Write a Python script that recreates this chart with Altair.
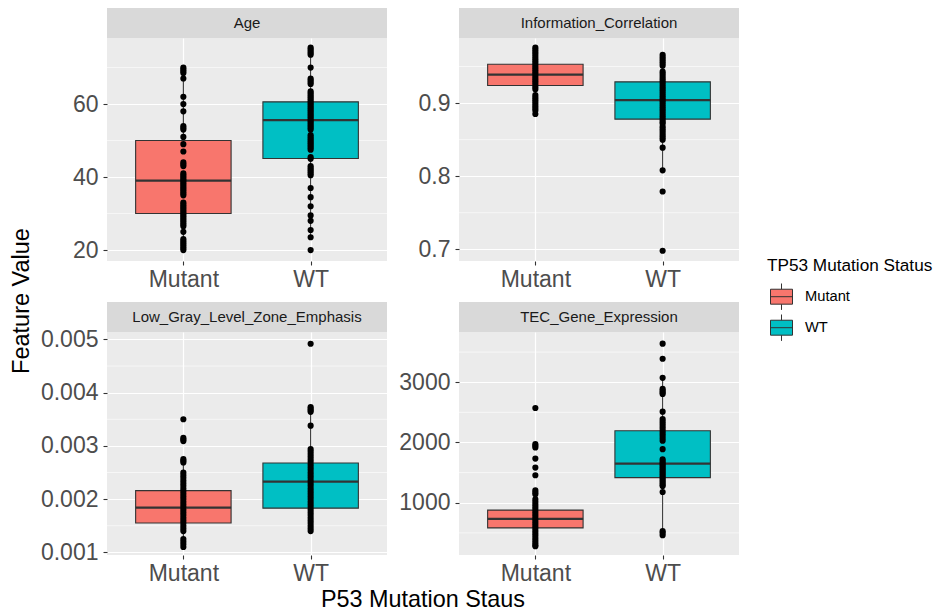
import altair as alt
import pandas as pd

FONT = "Liberation Sans"

features = ["Age", "Information_Correlation", "Low_Gray_Level_Zone_Emphasis", "TEC_Gene_Expression"]
statuses = ["Mutant", "WT"]
status_colors = ["#F8766D", "#00BFC4"]

age_mutant = [70, 69.5, 69, 68.5, 67, 62, 60, 58, 54, 53.5, 53, 51, 49, 47, 44, 43.5, 43,
              41, 40.5, 40, 39.5, 39, 38.5, 38, 37.5, 37, 36.5, 36, 35.5, 35,
              33, 32.5, 32, 31.5, 31, 30.5, 30, 29.5, 29, 28.5, 28, 27.5, 27, 26.5,
              25, 23, 22.5, 22, 21.5, 21, 20.5, 20]
age_wt = [75.5, 75, 74.5, 74, 73.5, 70, 67, 66.5, 66, 65.5, 63.5, 63, 62.5, 62, 61.5, 61,
          60.5, 60, 59.5, 59, 58.5, 58, 57.5, 57, 56.5, 56, 55.5, 55, 54.5, 54, 53.5, 53,
          51.5, 51, 50.5, 50, 49.5, 49, 48.5, 48, 47.5, 45.5, 45, 43, 42.5, 42, 41.5, 41,
          40.5, 37, 34.5, 32, 29.5, 28, 25.5, 23.5, 20]
info_mutant = [0.976, 0.973, 0.970, 0.967, 0.964, 0.961, 0.958, 0.955, 0.952, 0.949, 0.946,
               0.943, 0.940, 0.937, 0.934, 0.931, 0.928, 0.925, 0.922, 0.919,
               0.911, 0.908, 0.905, 0.902, 0.899, 0.896, 0.893, 0.890, 0.885]
info_wt = [0.966, 0.963, 0.960, 0.957, 0.954, 0.951, 0.943, 0.940, 0.937, 0.934, 0.931,
           0.928, 0.925, 0.922, 0.919, 0.916, 0.913, 0.910, 0.907, 0.904, 0.901, 0.898,
           0.895, 0.892, 0.889, 0.886, 0.883, 0.880, 0.877, 0.874, 0.872, 0.868, 0.865,
           0.862, 0.859, 0.856, 0.853, 0.850, 0.839, 0.808, 0.779, 0.698]
lgl_mutant = [0.0035, 0.00315, 0.00312, 0.00309, 0.00275, 0.00272, 0.00269,
              0.0025, 0.00245, 0.0024, 0.00235, 0.0023, 0.00225, 0.0022, 0.00215, 0.0021,
              0.00205, 0.002, 0.00195, 0.0019, 0.00185, 0.0018, 0.00175, 0.0017, 0.00165,
              0.0016, 0.00155, 0.0015, 0.00145, 0.0014, 0.00125, 0.0012, 0.00115, 0.0011]
lgl_wt = [0.00492, 0.00373, 0.0037, 0.00367, 0.00364, 0.00338, 0.00294, 0.0029, 0.00285,
          0.0028, 0.00275, 0.0027, 0.00265, 0.0026, 0.00255, 0.0025, 0.00245, 0.0024,
          0.00235, 0.0023, 0.00225, 0.0022, 0.00215, 0.0021, 0.00205, 0.002, 0.00195,
          0.0019, 0.00185, 0.0018, 0.00175, 0.0017, 0.00165, 0.0016, 0.00155, 0.0015,
          0.00145, 0.0014]
tec_mutant = [2572, 1972, 1945, 1917, 1733, 1583, 1456, 1206, 1172, 1139, 1056, 1015, 975,
              935, 895, 855, 815, 775, 735, 695, 655, 615, 575, 535, 495, 455, 415, 375,
              335, 300, 278]
tec_wt = [3639, 3389, 3072, 2889, 2860, 2830, 2806, 2511, 2389, 2350, 2310, 2270, 2230,
          2190, 2150, 2110, 2070, 2028, 1889, 1722, 1690, 1660, 1630, 1600, 1570, 1540,
          1510, 1480, 1450, 1420, 1390, 1360, 1330, 1300, 1278, 1178, 528, 500, 461]

points_by_feature = [[age_mutant, age_wt], [info_mutant, info_wt],
                     [lgl_mutant, lgl_wt], [tec_mutant, tec_wt]]

# box statistics [Mutant, WT] per feature
box_q1 = [[30, 45.1], [0.924, 0.878], [0.00155, 0.00183], [583, 1417]]
box_median = [[39, 55.6], [0.939, 0.904], [0.00184, 0.00233], [733, 1650]]
box_q3 = [[50, 60.6], [0.953, 0.929], [0.00216, 0.00268], [878, 2194]]
whisker_low = [[20, 23.5], [0.885, 0.808], [0.0011, 0.0014], [278, 461]]
whisker_high = [[70, 75.5], [0.976, 0.966], [0.00275, 0.00373], [1206, 3072]]

# axes
y_domains = [[17.0, 78.1], [0.684, 0.989], [0.00095, 0.00514], [133, 3833]]
y_ticks = [[20, 40, 60], [0.7, 0.8, 0.9], [0.001, 0.002, 0.003, 0.004, 0.005], [1000, 2000, 3000]]
y_minor = [[30, 50, 70], [0.75, 0.85, 0.95], [0.0015, 0.0025, 0.0035, 0.0045], [500, 1500, 2500, 3500]]
y_formats = ["d", ".1f", ".3f", "d"]

W, H = 280, 223
STRIP = 30
BOX_HALF = 0.375
POS = "indexof(['Mutant','WT'], datum.status) + 1"

box_symbol = "M-1,-0.68H1V0.68H-1Z M-1,0H1 M0,-0.68V-1.2 M0,0.68V1.2"

legend = alt.Legend(
    title="TP53 Mutation Status", orient="none", legendX=660, legendY=219,
    symbolType=box_symbol, symbolSize=484, symbolStrokeColor="#333333",
    symbolStrokeWidth=1, symbolOpacity=1, labelFontSize=14.7, labelColor="black",
    labelFont=FONT, titleFont=FONT, titleFontSize=17.2, titleFontWeight="normal",
    titleColor="black", rowPadding=0, titlePadding=11, labelOffset=12, symbolOffset=3,
)


def panel(i):
    f = features[i]
    pts = pd.concat([
        pd.DataFrame({"status": s, "value": v})
        for s, v in zip(statuses, points_by_feature[i])
    ])
    box = pd.DataFrame({
        "status": statuses, "q1": box_q1[i], "median": box_median[i], "q3": box_q3[i],
        "lo": whisker_low[i], "hi": whisker_high[i],
    })
    minor = pd.DataFrame({"minor": y_minor[i]})

    xs = alt.Scale(domain=[0.4, 2.6], nice=False, zero=False)
    ys = alt.Scale(domain=y_domains[i], nice=False, zero=False)
    xaxis = alt.Axis(values=[1, 2], labelExpr="datum.value == 1 ? 'Mutant' : 'WT'", title=None,
                     grid=True, gridColor="white", gridWidth=1.2, domain=False,
                     tickColor="#333333", tickSize=4, tickWidth=1.1, labelPadding=3,
                     labelFontSize=23, labelColor="#4D4D4D", labelFont=FONT)
    yaxis = alt.Axis(values=y_ticks[i], format=y_formats[i], title=None,
                     grid=True, gridColor="white", gridWidth=1.2, domain=False,
                     tickColor="#333333", tickSize=4, tickWidth=1.1, labelPadding=5,
                     labelFontSize=23, labelColor="#4D4D4D", labelFont=FONT)

    bx = (alt.Chart(box)
          .transform_calculate(pos=POS)
          .transform_calculate(x_lo=f"datum.pos - {BOX_HALF}")
          .transform_calculate(x_hi=f"datum.pos + {BOX_HALF}"))

    minor_rules = alt.Chart(minor).mark_rule(color="white", strokeWidth=0.6).encode(
        y=alt.Y("minor:Q", scale=ys, axis=yaxis))
    whisk = bx.mark_rule(color="#333333", strokeWidth=1.1).encode(
        x=alt.X("pos:Q", scale=xs, axis=xaxis),
        y=alt.Y("lo:Q", scale=ys, axis=yaxis), y2="hi:Q")
    boxes = bx.mark_rect(stroke="#333333", strokeWidth=1.1).encode(
        x=alt.X("x_lo:Q", scale=xs, axis=xaxis), x2="x_hi:Q",
        y=alt.Y("q1:Q", scale=ys, axis=yaxis), y2="q3:Q",
        fill=alt.Fill("status:N", scale=alt.Scale(domain=statuses, range=status_colors),
                      legend=legend))
    med = bx.mark_rule(color="#333333", strokeWidth=2.3).encode(
        x=alt.X("x_lo:Q", scale=xs, axis=xaxis), x2="x_hi:Q",
        y=alt.Y("median:Q", scale=ys, axis=yaxis))
    dots = alt.Chart(pts).transform_calculate(pos=POS).mark_circle(
        size=38, color="black", opacity=1).encode(
        x=alt.X("pos:Q", scale=xs, axis=xaxis),
        y=alt.Y("value:Q", scale=ys, axis=yaxis))

    lab = pd.DataFrame({"label": [f]})
    strip = alt.Chart(lab).mark_rect(color="#D9D9D9").encode(
        x=alt.value(0), x2=alt.value(W), y=alt.value(-STRIP), y2=alt.value(0))
    strip_text = alt.Chart(lab).mark_text(
        fontSize=15, color="#1A1A1A", font=FONT, align="center", baseline="middle").encode(
        x=alt.value(W / 2), y=alt.value(-STRIP / 2), text="label:N")

    layers = [minor_rules, whisk, boxes, med, dots, strip, strip_text]
    if i == 0:
        layers.append(alt.Chart(pd.DataFrame({"t": ["Feature Value"]})).mark_text(
            fontSize=23.5, color="black", font=FONT, angle=270, align="center",
            baseline="middle").encode(x=alt.value(-85), y=alt.value(263), text="t:N"))
    if i == 2:
        layers.append(alt.Chart(pd.DataFrame({"t": ["P53 Mutation Staus"]})).mark_text(
            fontSize=23.4, color="black", font=FONT, align="center",
            baseline="middle").encode(x=alt.value(316), y=alt.value(268), text="t:N"))
    return alt.layer(*layers).properties(width=W, height=H)


chart = alt.concat(
    *[panel(i) for i in range(4)], columns=2,
    spacing={"row": 71, "column": 72}, bounds="flush",
).properties(
    padding={"left": 2, "top": 0, "right": 0, "bottom": 0}
).configure_view(fill="#EBEBEB", stroke=None)

chart.save("out.html", embed_options={"renderer": "svg", "actions": False})
